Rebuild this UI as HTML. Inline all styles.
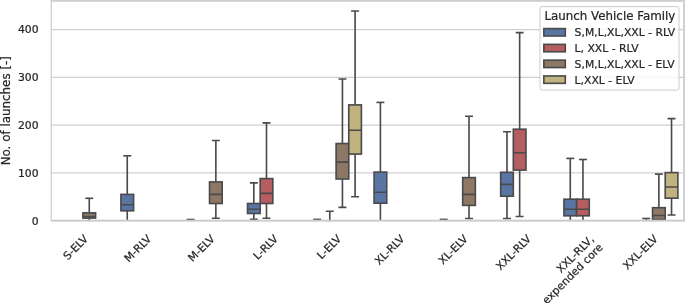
<!DOCTYPE html>
<html><head><meta charset="utf-8"><title>Launch Vehicle Family boxplot</title>
<style>html,body{margin:0;padding:0;background:#fff;overflow:hidden}svg text{white-space:pre}</style></head>
<body>
<svg width="685" height="303" viewBox="0 0 685 303" style="display:block">
<rect width="685" height="303" fill="#fff"/>
<line x1="51.3" x2="684.2" y1="220.80" y2="220.80" stroke="#cfcfcf" stroke-width="1.25"/>
<line x1="51.3" x2="684.2" y1="172.98" y2="172.98" stroke="#cfcfcf" stroke-width="1.25"/>
<line x1="51.3" x2="684.2" y1="125.15" y2="125.15" stroke="#cfcfcf" stroke-width="1.25"/>
<line x1="51.3" x2="684.2" y1="77.33" y2="77.33" stroke="#cfcfcf" stroke-width="1.25"/>
<line x1="51.3" x2="684.2" y1="29.50" y2="29.50" stroke="#cfcfcf" stroke-width="1.25"/>
<rect x="82.94" y="212.85" width="12.66" height="5.25" fill="#8d7866" stroke="#4a4a4a" stroke-width="1.62"/>
<path d="M89.27 212.85V198.30M89.27 218.10V220.30M82.94 216.50H95.60" fill="none" stroke="#4a4a4a" stroke-width="1.62"/>
<path d="M86.11 198.30H92.44" fill="none" stroke="#4a4a4a" stroke-width="1.62" stroke-linecap="square"/>
<rect x="120.92" y="194.40" width="12.66" height="16.40" fill="#5875a4" stroke="#4a4a4a" stroke-width="1.62"/>
<path d="M127.25 194.40V155.80M127.25 210.80V220.40M120.92 204.70H133.58" fill="none" stroke="#4a4a4a" stroke-width="1.62"/>
<path d="M124.08 155.80H130.41" fill="none" stroke="#4a4a4a" stroke-width="1.62" stroke-linecap="square"/>
<rect x="209.53" y="181.90" width="12.66" height="21.60" fill="#8d7866" stroke="#4a4a4a" stroke-width="1.62"/>
<path d="M215.85 181.90V140.50M215.85 203.50V218.20M209.53 194.40H222.18" fill="none" stroke="#4a4a4a" stroke-width="1.62"/>
<path d="M212.69 140.50H219.02M212.69 218.20H219.02" fill="none" stroke="#4a4a4a" stroke-width="1.62" stroke-linecap="square"/>
<rect x="247.50" y="203.50" width="12.66" height="10.00" fill="#5875a4" stroke="#4a4a4a" stroke-width="1.62"/>
<path d="M253.83 203.50V182.90M253.83 213.50V219.30M247.50 209.30H260.16" fill="none" stroke="#4a4a4a" stroke-width="1.62"/>
<path d="M250.66 182.90H256.99M250.66 219.30H256.99" fill="none" stroke="#4a4a4a" stroke-width="1.62" stroke-linecap="square"/>
<rect x="260.16" y="178.60" width="12.66" height="24.90" fill="#b55d60" stroke="#4a4a4a" stroke-width="1.62"/>
<path d="M266.49 178.60V122.90M266.49 203.50V218.20M260.16 193.40H272.81" fill="none" stroke="#4a4a4a" stroke-width="1.62"/>
<path d="M263.32 122.90H269.65M263.32 218.20H269.65" fill="none" stroke="#4a4a4a" stroke-width="1.62" stroke-linecap="square"/>
<rect x="336.11" y="143.50" width="12.66" height="35.50" fill="#8d7866" stroke="#4a4a4a" stroke-width="1.62"/>
<path d="M342.43 143.50V79.00M342.43 179.00V207.40M336.11 162.10H348.76" fill="none" stroke="#4a4a4a" stroke-width="1.62"/>
<path d="M339.27 79.00H345.60M339.27 207.40H345.60" fill="none" stroke="#4a4a4a" stroke-width="1.62" stroke-linecap="square"/>
<rect x="348.76" y="104.90" width="12.66" height="49.20" fill="#c1b37f" stroke="#4a4a4a" stroke-width="1.62"/>
<path d="M355.09 104.90V11.05M355.09 154.10V196.70M348.76 130.20H361.42" fill="none" stroke="#4a4a4a" stroke-width="1.62"/>
<path d="M351.93 11.05H358.26M351.93 196.70H358.26" fill="none" stroke="#4a4a4a" stroke-width="1.62" stroke-linecap="square"/>
<rect x="374.08" y="172.10" width="12.66" height="31.10" fill="#5875a4" stroke="#4a4a4a" stroke-width="1.62"/>
<path d="M380.41 172.10V102.40M380.41 203.20V220.40M374.08 192.20H386.74" fill="none" stroke="#4a4a4a" stroke-width="1.62"/>
<path d="M377.24 102.40H383.57" fill="none" stroke="#4a4a4a" stroke-width="1.62" stroke-linecap="square"/>
<rect x="462.69" y="177.60" width="12.66" height="27.80" fill="#8d7866" stroke="#4a4a4a" stroke-width="1.62"/>
<path d="M469.01 177.60V116.20M469.01 205.40V218.50M462.69 194.40H475.34" fill="none" stroke="#4a4a4a" stroke-width="1.62"/>
<path d="M465.85 116.20H472.18M465.85 218.50H472.18" fill="none" stroke="#4a4a4a" stroke-width="1.62" stroke-linecap="square"/>
<rect x="500.66" y="172.30" width="12.66" height="23.90" fill="#5875a4" stroke="#4a4a4a" stroke-width="1.62"/>
<path d="M506.99 172.30V131.70M506.99 196.20V218.50M500.66 184.40H513.32" fill="none" stroke="#4a4a4a" stroke-width="1.62"/>
<path d="M503.82 131.70H510.15M503.82 218.50H510.15" fill="none" stroke="#4a4a4a" stroke-width="1.62" stroke-linecap="square"/>
<rect x="513.32" y="129.20" width="12.66" height="40.90" fill="#b55d60" stroke="#4a4a4a" stroke-width="1.62"/>
<path d="M519.65 129.20V32.60M519.65 170.10V216.50M513.32 152.80H525.98" fill="none" stroke="#4a4a4a" stroke-width="1.62"/>
<path d="M516.48 32.60H522.81M516.48 216.50H522.81" fill="none" stroke="#4a4a4a" stroke-width="1.62" stroke-linecap="square"/>
<rect x="563.95" y="199.20" width="12.66" height="16.60" fill="#5875a4" stroke="#4a4a4a" stroke-width="1.62"/>
<path d="M570.28 199.20V158.40M570.28 215.80V220.40M563.95 209.30H576.61" fill="none" stroke="#4a4a4a" stroke-width="1.62"/>
<path d="M567.11 158.40H573.44" fill="none" stroke="#4a4a4a" stroke-width="1.62" stroke-linecap="square"/>
<rect x="576.61" y="199.20" width="12.66" height="16.60" fill="#b55d60" stroke="#4a4a4a" stroke-width="1.62"/>
<path d="M582.94 199.20V159.50M582.94 215.80V220.40M576.61 209.30H589.26" fill="none" stroke="#4a4a4a" stroke-width="1.62"/>
<path d="M579.77 159.50H586.10" fill="none" stroke="#4a4a4a" stroke-width="1.62" stroke-linecap="square"/>
<rect x="652.56" y="207.70" width="12.66" height="11.80" fill="#8d7866" stroke="#4a4a4a" stroke-width="1.62"/>
<path d="M658.88 207.70V174.10M658.88 219.50V220.40M652.56 215.50H665.21" fill="none" stroke="#4a4a4a" stroke-width="1.62"/>
<path d="M655.72 174.10H662.05" fill="none" stroke="#4a4a4a" stroke-width="1.62" stroke-linecap="square"/>
<rect x="665.21" y="172.60" width="12.66" height="25.60" fill="#c1b37f" stroke="#4a4a4a" stroke-width="1.62"/>
<path d="M671.54 172.60V118.60M671.54 198.20V215.00M665.21 187.00H677.87" fill="none" stroke="#4a4a4a" stroke-width="1.62"/>
<path d="M668.38 118.60H674.71M668.38 215.00H674.71" fill="none" stroke="#4a4a4a" stroke-width="1.62" stroke-linecap="square"/>
<path d="M329.78 220.4V211.3M326.61 211.3H332.94" fill="none" stroke="#4a4a4a" stroke-width="1.62" stroke-linecap="square"/>
<path d="M187.37 219.50H193.70" stroke="#4a4a4a" stroke-width="1.62" stroke-linecap="square"/>
<path d="M190.54 219.50V220.4" stroke="#4a4a4a" stroke-width="1.62"/>
<path d="M313.95 219.40H320.28" stroke="#4a4a4a" stroke-width="1.62" stroke-linecap="square"/>
<path d="M317.12 219.40V220.4" stroke="#4a4a4a" stroke-width="1.62"/>
<path d="M440.53 219.40H446.86" stroke="#4a4a4a" stroke-width="1.62" stroke-linecap="square"/>
<path d="M443.70 219.40V220.4" stroke="#4a4a4a" stroke-width="1.62"/>
<path d="M643.06 218.50H649.39" stroke="#4a4a4a" stroke-width="1.62" stroke-linecap="square"/>
<path d="M646.23 218.50V220.4" stroke="#4a4a4a" stroke-width="1.62"/>
<path d="M51.3 220.5V0" fill="none" stroke="#cfcfcf" stroke-width="1.25"/>
<rect x="683.1" y="0" width="1.9" height="221.3" fill="#cfcfcf"/>
<rect x="50.675" y="219.7" width="634.1500000000001" height="1.6" fill="#cbcbcb"/>
<rect x="50.675" y="0" width="634.1500000000001" height="1.8" fill="#cfcfcf"/>
<g font-family="'DejaVu Sans', 'Liberation Sans', sans-serif" font-size="10.8" fill="#262626" stroke="#262626" stroke-width="0.22">
<text x="38.50" y="224.60" text-anchor="end">0</text>
<text x="38.50" y="176.78" text-anchor="end">100</text>
<text x="38.50" y="128.95" text-anchor="end">200</text>
<text x="38.50" y="81.13" text-anchor="end">300</text>
<text x="38.50" y="33.30" text-anchor="end">400</text>
<text transform="translate(10.0,110.70) rotate(-90)" text-anchor="middle" font-size="11.9">No. of launches [-]</text>
<text transform="translate(85.94,236.70) rotate(-45)" text-anchor="end" y="4">S-ELV</text>
<text transform="translate(149.24,236.70) rotate(-45)" text-anchor="end" y="4">M-RLV</text>
<text transform="translate(212.53,236.70) rotate(-45)" text-anchor="end" y="4">M-ELV</text>
<text transform="translate(275.81,236.70) rotate(-45)" text-anchor="end" y="4">L-RLV</text>
<text transform="translate(339.11,236.70) rotate(-45)" text-anchor="end" y="4">L-ELV</text>
<text transform="translate(402.40,236.70) rotate(-45)" text-anchor="end" y="4">XL-RLV</text>
<text transform="translate(465.69,236.70) rotate(-45)" text-anchor="end" y="4">XL-ELV</text>
<text transform="translate(528.98,236.70) rotate(-45)" text-anchor="end" y="4">XXL-RLV</text>
<text transform="translate(592.26,236.70) rotate(-45)" text-anchor="end"><tspan x="-0.5" y="4">XXL-RLV,</tspan><tspan x="0" y="16">expended core</tspan></text>
<text transform="translate(655.56,236.70) rotate(-45)" text-anchor="end" y="4">XXL-ELV</text>
</g>
<rect x="540.0" y="6.6" width="139.0" height="83.5" rx="2.2" fill="#fff" fill-opacity="0.8" stroke="#cccccc" stroke-opacity="1" stroke-width="1"/>
<g font-family="'DejaVu Sans', 'Liberation Sans', sans-serif" fill="#262626" stroke="#262626" stroke-width="0.22">
<text x="609.90" y="20.4" text-anchor="middle" font-size="11.85">Launch Vehicle Family</text>
<rect x="543.85" y="28.60" width="21.45" height="7.4" fill="#5875a4" stroke="#4a4a4a" stroke-width="1.62"/>
<text x="574.6" y="36.30" font-size="10.8">S,M,L,XL,XXL - RLV</text>
<rect x="543.85" y="44.38" width="21.45" height="7.4" fill="#b55d60" stroke="#4a4a4a" stroke-width="1.62"/>
<text x="574.6" y="52.08" font-size="10.8">L, XXL - RLV</text>
<rect x="543.85" y="60.16" width="21.45" height="7.4" fill="#8d7866" stroke="#4a4a4a" stroke-width="1.62"/>
<text x="574.6" y="67.86" font-size="10.8">S,M,L,XL,XXL - ELV</text>
<rect x="543.85" y="75.94" width="21.45" height="7.4" fill="#c1b37f" stroke="#4a4a4a" stroke-width="1.62"/>
<text x="574.6" y="83.64" font-size="10.8">L,XXL - ELV</text>
</g>
</svg>
</body></html>
